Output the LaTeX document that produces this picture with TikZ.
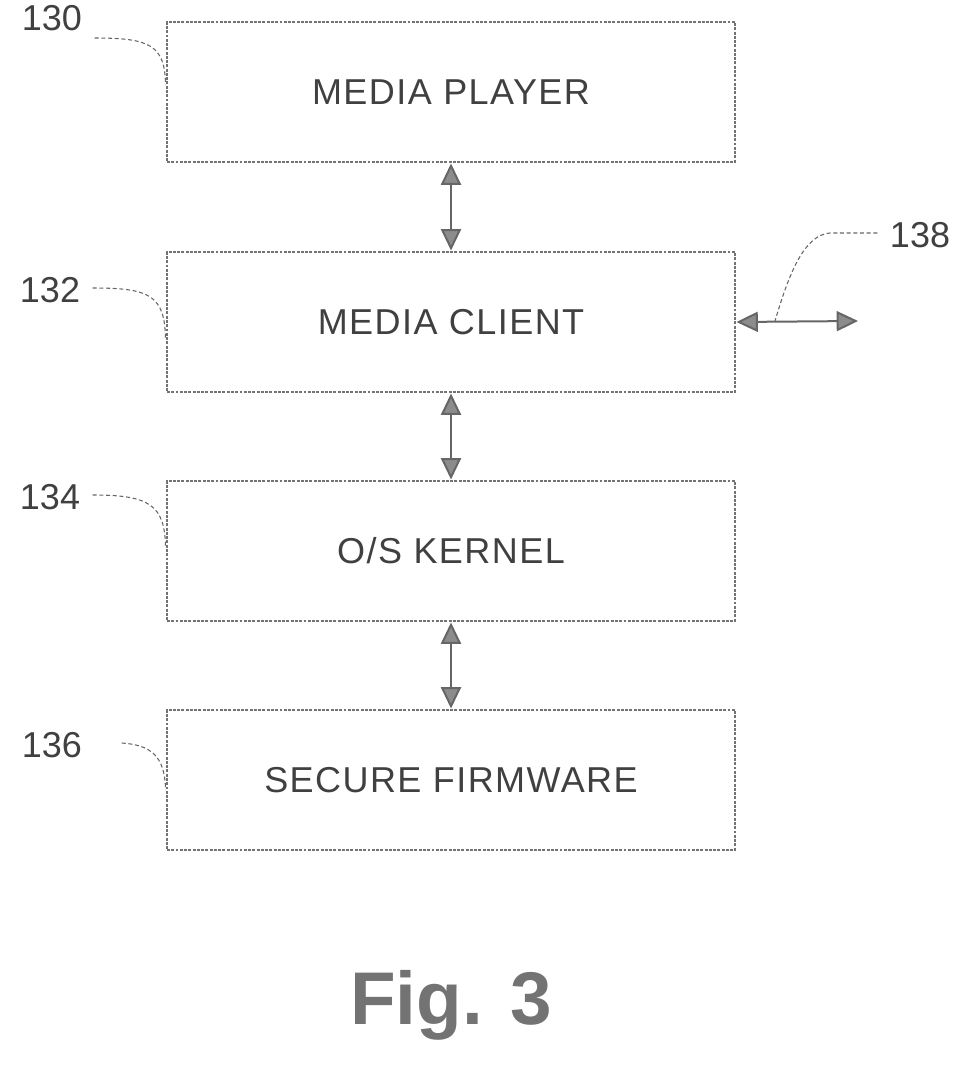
\documentclass[tikz,border=0pt]{standalone}
\usepackage{fontspec}
\setmainfont{Liberation Sans}
\usetikzlibrary{arrows.meta}
\begin{document}
\begin{tikzpicture}[x=0.75pt,y=-0.75pt,
  box/.style={draw=black!55,line width=2.2pt,densely dotted,minimum width=426pt,minimum height=105pt,inner sep=0pt,font=\fontsize{27}{30}\selectfont\color{black!75}\addfontfeatures{LetterSpace=4}},
  conn/.style={draw=black!60,line width=1.5pt,{Triangle[width=15pt,length=16pt,fill=black!45]}-{Triangle[width=15pt,length=16pt,fill=black!45]}},
  lead/.style={draw=black!60,line width=0.8pt,densely dashed},
  num/.style={font=\fontsize{27}{30}\selectfont\color{black!75}}]
\useasboundingbox (0,0) rectangle (972,1069);
\node[box] (b1) at (451,92) {MEDIA PLAYER};
\node[box] (b2) at (451,322) {MEDIA CLIENT};
\node[box] (b3) at (451,551) {O/S KERNEL};
\node[box] (b4) at (451,780) {SECURE FIRMWARE};
\coordinate (r) at (858,321);
\draw[conn] (b1.south) -- (b2.north);
\draw[conn] (b2.south) -- (b3.north);
\draw[conn] (b3.south) -- (b4.north);
\draw[conn] (b2.east) -- (r);
\node[num] (n130) at (52,18) {130};
\node[num] (n132) at (50,290) {132};
\node[num] (n134) at (50,497) {134};
\node[num] (n136) at (52,745) {136};
\node[num] (n138) at (920,235) {138};
\coordinate (c138) at (775,321);
\draw[lead] (n130.east) ++(8,20) .. controls (150,38) and (165,45) .. (b1.west|-0,85);
\draw[lead] (n132.east) ++(8,-2) .. controls (150,288) and (165,295) .. (b2.west|-0,340);
\draw[lead] (n134.east) ++(8,-2) .. controls (150,495) and (165,505) .. (b3.west|-0,548);
\draw[lead] (n136.east) ++(35,-2) .. controls (150,745) and (165,755) .. (b4.west|-0,790);
\draw[lead] (n138.west) ++(-8,-2) -- (830,233) .. controls (805,235) and (790,270) .. (c138);
\node[font=\bfseries\fontsize{56}{60}\selectfont\color{black!55}] (fig) at (451,1005) {Fig. 3};
\end{tikzpicture}
\end{document}
